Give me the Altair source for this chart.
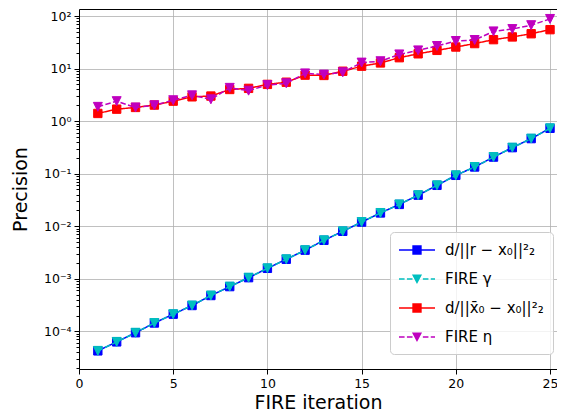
import altair as alt
import pandas as pd

# ---------------- data ----------------
iterations = list(range(1, 26))

prec_r = [4.25e-5, 6.3e-5, 9.4e-5, 1.44e-4, 2.12e-4, 3.1e-4, 4.8e-4, 7.1e-4,
          1.05e-3, 1.58e-3, 2.35e-3, 3.5e-3, 5.4e-3, 8.0e-3, 1.2e-2, 1.79e-2,
          2.6e-2, 3.9e-2, 6.0e-2, 9.3e-2, 1.34e-1, 2.07e-1, 3.13e-1, 4.65e-1, 7.3e-1]

fire_gamma = [4.25e-5, 6.3e-5, 9.4e-5, 1.44e-4, 2.12e-4, 3.1e-4, 4.8e-4, 7.1e-4,
              1.05e-3, 1.58e-3, 2.35e-3, 3.5e-3, 5.4e-3, 8.0e-3, 1.2e-2, 1.79e-2,
              2.6e-2, 3.9e-2, 6.0e-2, 9.3e-2, 1.34e-1, 2.07e-1, 3.13e-1, 4.65e-1, 7.3e-1]

prec_xbar = [1.40, 1.69, 1.82, 2.02, 2.4, 2.9, 3.0, 4.0, 4.2, 5.0, 5.5, 7.5, 7.4,
             8.9, 11.1, 12.8, 16.1, 19.1, 22.2, 25.7, 29.9, 35.5, 40.0, 46.0, 55.0]

fire_eta = [1.87, 2.4, 1.82, 2.0, 2.5, 3.1, 2.6, 4.3, 3.8, 4.85, 5.25, 8.1, 7.7,
            8.5, 13.0, 13.8, 18.6, 22.2, 26.9, 33.5, 35.0, 51.0, 56.5, 67.0, 88.0]

series_names = ["d/||r − x₀||²₂", "FIRE γ", "d/||x̄₀ − x₀||²₂", "FIRE η"]
series_colors = ["#0000ff", "#00bfbf", "#ff0000", "#bf00bf"]
series_dashed = [False, True, False, True]
series_marker = ["square", "tri", "square", "tri"]
series_values = [prec_r, fire_gamma, prec_xbar, fire_eta]

x_ticks = [0, 5, 10, 15, 20, 25]

# ---------------- table ----------------
rows = []
for name, vals in zip(series_names, series_values):
    for it, v in zip(iterations, vals):
        rows.append({"it": it, "val": v, "series": name})
df = pd.DataFrame(rows)

Y_MIN, Y_MAX = 1.92e-5, 136
y_ticks = []
for k in range(-5, 3):
    for m in range(1, 10):
        v = float(f"{m}e{k}")
        if Y_MIN <= v <= Y_MAX:
            y_ticks.append(v)

major_test = "abs(log(datum.value)/LN10 - round(log(datum.value)/LN10)) < 0.001"
exp_e = "round(log(datum.value)/LN10)"
label_expr = (
    f"({major_test}) ? ("
    f"{exp_e} == 2 ? '10²' : {exp_e} == 1 ? '10¹' : {exp_e} == 0 ? '10⁰' : "
    f"{exp_e} == -1 ? '10⁻¹' : {exp_e} == -2 ? '10⁻²' : {exp_e} == -3 ? '10⁻³' : "
    f"{exp_e} == -4 ? '10⁻⁴' : '') : ''"
)

FONT = "DejaVu Sans"
x_scale = alt.Scale(domain=[0, 25.37], nice=False, zero=False)
y_scale = alt.Scale(type="log", domain=[Y_MIN, Y_MAX], nice=False)

x_axis_bottom = alt.X(
    "it:Q", scale=x_scale,
    axis=alt.Axis(values=x_ticks, title="FIRE iteration", format="d",
                  labelFlush=False, labelOverlap=False, labelPadding=3, titlePadding=4),
)
x_axis_top = alt.X(
    "it:Q", scale=x_scale,
    axis=alt.Axis(orient="top", labels=False, ticks=False, grid=False, title=None,
                  domain=True, domainColor="black", domainWidth=1),
)
x_plain = alt.X("it:Q", scale=x_scale, axis=None)

y_axis_left = alt.Y(
    "val:Q", scale=y_scale,
    axis=alt.Axis(
        values=y_ticks, title="Precision", labelExpr=label_expr,
        labelOverlap=False, labelFlush=False,
        tickSize={"condition": {"test": major_test, "value": 5}, "value": 3},
        gridOpacity={"condition": {"test": major_test, "value": 1}, "value": 0},
        titlePadding=13,
    ),
)

base = alt.Chart(df)

# legend symbols: line + marker, unit = 9 px, line from -1 to 3 (36 px), marker at 1
solid_line = "M-1,-0.083H3V0.083H-1Z"
dashed_line = ("M-1,-0.083H-0.38V0.083H-1Z M-0.12,-0.083H0.5V0.083H-0.12Z "
               "M1.65,-0.083H2.27V0.083H1.65Z M2.53,-0.083H3V0.083H2.53Z")
sq_sym = "M0.48,-0.52H1.52V0.52H0.48Z"
tri_sym = "M0.44,-0.5H1.56L1,0.56Z"
legend_paths = []
for dashed, mk in zip(series_dashed, series_marker):
    legend_paths.append((dashed_line if dashed else solid_line) + " " +
                        (tri_sym if mk == "tri" else sq_sym))

leg = alt.Legend(
    title=None, orient="none", legendX=311, legendY=223,
    symbolSize=324, symbolStrokeWidth=0, symbolOpacity=1,
    labelFontSize=15, labelFont=FONT, labelColor="black", labelOffset=28,
    labelLimit=300, rowPadding=12, padding=9,
    fillColor="rgba(255,255,255,0.8)", strokeColor="#cccccc", cornerRadius=4,
)

legend_layer = base.mark_point(filled=True, opacity=0).encode(
    x=x_axis_bottom, y=y_axis_left,
    color=alt.Color("series:N", scale=alt.Scale(domain=series_names, range=series_colors), legend=leg),
    shape=alt.Shape("series:N", scale=alt.Scale(domain=series_names, range=legend_paths), legend=leg),
)
frame_layer = base.mark_point(opacity=0).encode(x=x_axis_top, y=y_axis_left)

layers = [legend_layer, frame_layer]
tri_main = "M-1,-1H1L0,1Z"
for name, col, dashed, mk in zip(series_names, series_colors, series_dashed, series_marker):
    sub = base.transform_filter(alt.datum.series == name)
    line = sub.mark_line(
        color=col, strokeWidth=1.5,
        strokeDash=[5.5, 2.4] if dashed else [1, 0],
    ).encode(x=x_plain, y=y_axis_left)
    pts = sub.mark_point(
        filled=True, color=col, stroke=col, strokeWidth=1, opacity=1,
        shape=(tri_main if mk == "tri" else "square"),
        size=(80 if mk == "tri" else 70),
    ).encode(x=x_plain, y=y_axis_left)
    layers += [line, pts]

chart = alt.layer(*layers).resolve_axis(x="independent").properties(
    width=478, height=360,
    autosize=alt.AutoSizeParams(type="none"),
    padding={"left": 71, "top": 1, "right": 0, "bottom": 48},
    background="white",
).configure_view(
    strokeWidth=0,
).configure_axis(
    labelFont=FONT, labelFontSize=12.5, labelColor="black", labelPadding=3,
    titleFont=FONT, titleFontSize=19, titleFontWeight="normal", titleColor="black",
    gridColor="#b0b0b0", gridWidth=0.8,
    tickColor="black", tickWidth=1, tickSize=5,
    domainColor="black", domainWidth=1,
)

chart.save("out.html", embed_options={"renderer": "svg", "actions": False})
